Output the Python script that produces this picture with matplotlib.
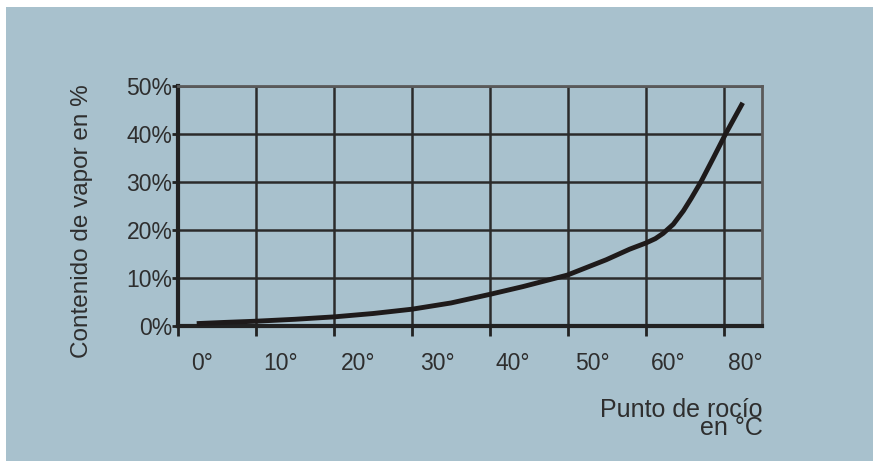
import matplotlib.pyplot as plt
from matplotlib.patches import Rectangle

# curva (x en unidades de rejilla, y en %)
x_curva = [0.24, 0.6, 1.0, 1.5, 2.0, 2.5, 3.0, 3.5, 4.0, 4.42, 4.99, 5.49, 5.79, 6.0,
           6.12, 6.22, 6.35, 6.48, 6.58, 6.71, 6.86, 7.02, 7.24]
y_curva = [0.5, 0.75, 1.0, 1.4, 1.9, 2.6, 3.5, 4.8, 6.6, 8.2, 10.6, 13.8, 16.0, 17.3,
           18.2, 19.3, 21.2, 24.0, 26.6, 30.2, 34.9, 40.0, 46.5]

y_ticks = [0, 10, 20, 30, 40, 50]
y_labels = ['0%', '10%', '20%', '30%', '40%', '50%']
x_grid = [0, 1, 2, 3, 4, 5, 6, 7]
x_label_pos = [0.31, 1.32, 2.31, 3.32, 4.29, 5.31, 6.29, 7.27]
x_labels = ['0°', '10°', '20°', '30°', '40°', '50°', '60°', '80°']

azul = '#a8c1cd'
gris = '#2e2e2e'
plt.rcParams['font.family'] = ['Liberation Sans', 'DejaVu Sans']

fig = plt.figure(figsize=(8.73, 4.61), dpi=100)
fig.patch.set_facecolor('white')
fig.add_artist(Rectangle((6/873, 0), 1, 1 - 7/461, transform=fig.transFigure,
                         facecolor=azul, edgecolor='none', zorder=0))

ax = fig.add_axes([178/873, 1 - 326/461, 584/873, 240/461])
ax.set_facecolor('none')
ax.set_xlim(0, 584/78)
ax.set_ylim(0, 50)

ax.plot(x_curva, y_curva, color='#1e1a1a', lw=3.5, solid_capstyle='butt',
        solid_joinstyle='round', zorder=3)

ax.set_yticks(y_ticks, y_labels)
ax.set_xticks(x_grid, [''] * len(x_grid))
ax.set_xticks(x_label_pos, x_labels, minor=True)
ax.tick_params(axis='x', which='major', length=7, width=2, color='#222222', direction='out')
ax.tick_params(axis='x', which='minor', length=0, pad=19, labelsize=16.5, labelcolor=gris)
ax.tick_params(axis='y', length=4, width=2, color='#222222', pad=0, labelsize=16.5, labelcolor=gris)
ax.grid(True, which='major', color='#2b2b2b', lw=1.8, zorder=1)

for s in ['left', 'bottom']:
    ax.spines[s].set_linewidth(3)
    ax.spines[s].set_color('#222222')
for s in ['top', 'right']:
    ax.spines[s].set_linewidth(2)
    ax.spines[s].set_color('#5a5a5a')

fig.text(82/873, 1 - 221/461, 'Contenido de vapor en %', rotation=90, ha='center', va='center',
         fontsize=17.5, color=gris)
fig.text(763/873, 1 - 417/461, 'Punto de rocío', ha='right', va='baseline', fontsize=18, color=gris)
fig.text(763/873, 1 - 435/461, 'en °C', ha='right', va='baseline', fontsize=18, color=gris)

fig.savefig('out.png', dpi=100)
